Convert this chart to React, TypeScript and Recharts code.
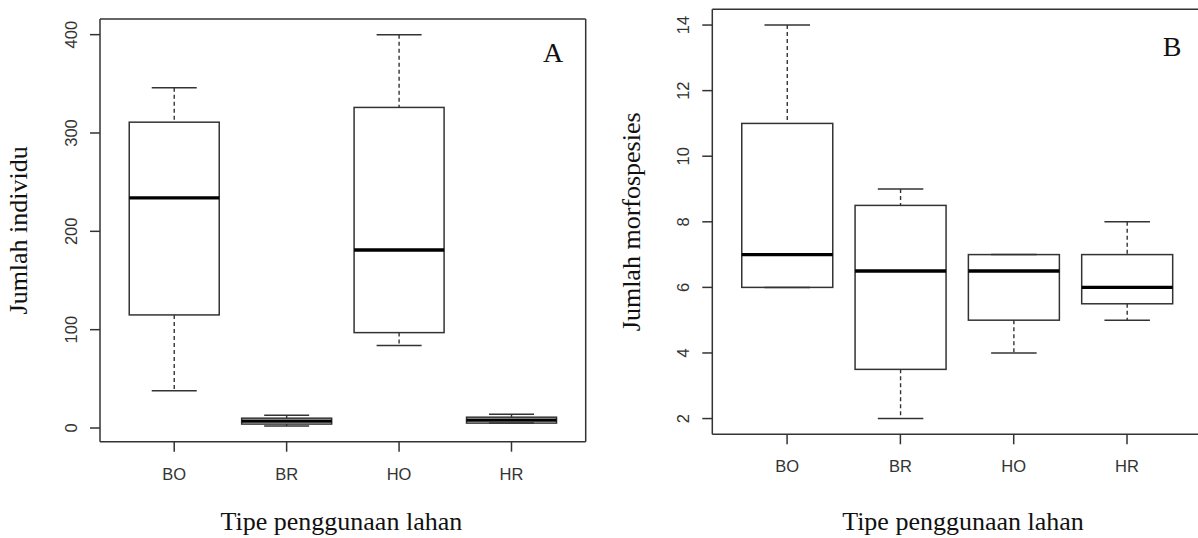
import { ComposedChart, Bar, XAxis, YAxis, Label } from "recharts";

const categories = ["BO", "BR", "HO", "HR"];

// Panel A: Jumlah individu
const indMin = [38, 2, 84, 5];
const indQ1 = [115, 4, 97, 5];
const indMedian = [234, 7, 181, 8];
const indQ3 = [311, 10, 326, 11];
const indMax = [346, 13, 400, 14];
const indTicks = [0, 100, 200, 300, 400];

// Panel B: Jumlah morfospesies
const morMin = [6, 2, 4, 5];
const morQ1 = [6, 3.5, 5, 5.5];
const morMedian = [7, 6.5, 6.5, 6];
const morQ3 = [11, 8.5, 7, 7];
const morMax = [14, 9, 7, 8];
const morTicks = [2, 4, 6, 8, 10, 12, 14];

const LINE = "#333";
const TEXT = "#333";
const SANS = '"Liberation Sans", Arial, sans-serif';
const SERIF = '"Liberation Serif", "Times New Roman", serif';

function rows(mn: number[], q1: number[], med: number[], q3: number[], mx: number[]) {
  return categories.map((name, i) => ({
    name,
    range: [mn[i], mx[i]],
    min: mn[i],
    q1: q1[i],
    median: med[i],
    q3: q3[i],
    max: mx[i],
  }));
}

// R's default 4% axis extension
function rDomain(mn: number[], mx: number[]): [number, number] {
  const lo = Math.min(...mn);
  const hi = Math.max(...mx);
  const d = (hi - lo) * 0.04;
  return [lo - d, hi + d];
}

function BoxShape(props: any) {
  const { x, y, width, height, payload } = props;
  const top = Math.min(y, y + height);
  const bottom = Math.max(y, y + height);
  const k = (bottom - top) / (payload.max - payload.min);
  const py = (v: number) => top + (payload.max - v) * k;
  const cx = x + width / 2;
  const cap = width / 4;
  return (
    <g>
      <line x1={cx} x2={cx} y1={py(payload.max)} y2={py(payload.q3)} stroke={LINE} strokeWidth={1.4} strokeDasharray="4 3" />
      <line x1={cx} x2={cx} y1={py(payload.q1)} y2={py(payload.min)} stroke={LINE} strokeWidth={1.4} strokeDasharray="4 3" />
      <line x1={cx - cap} x2={cx + cap} y1={py(payload.max)} y2={py(payload.max)} stroke={LINE} strokeWidth={1.5} />
      <line x1={cx - cap} x2={cx + cap} y1={py(payload.min)} y2={py(payload.min)} stroke={LINE} strokeWidth={1.5} />
      <rect x={x} y={py(payload.q3)} width={width} height={py(payload.q1) - py(payload.q3)} fill="none" stroke={LINE} strokeWidth={1.5} />
      <line x1={x} x2={x + width} y1={py(payload.median)} y2={py(payload.median)} stroke="#000" strokeWidth={3.4} />
    </g>
  );
}

type PanelProps = {
  left: number;
  width: number;
  plotLeft: number;
  plotTop: number;
  plotRight: number;
  plotBottom: number;
  data: any[];
  domain: [number, number];
  ticks: number[];
  yLabel: string;
  letter: string;
  letterX: number;
  letterY: number;
  titleX: number;
};

function Panel(p: PanelProps) {
  const plotW = p.plotRight - p.plotLeft;
  const pad = (plotW * 0.16) / 4.32;
  const yTick = (t: any) => {
    const cx = p.plotLeft - 29;
    return (
      <text x={cx} y={t.y} transform={`rotate(-90 ${cx} ${t.y})`} textAnchor="middle" dominantBaseline="central" fill={TEXT} fontFamily={SANS} fontSize={16.5}>
        {t.payload.value}
      </text>
    );
  };
  const xTick = (t: any) => (
    <text x={t.x} y={p.plotBottom + 32} textAnchor="middle" dominantBaseline="central" fill={TEXT} fontFamily={SANS} fontSize={16.5}>
      {t.payload.value}
    </text>
  );
  return (
    <div style={{ position: "absolute", left: p.left, top: 0 }}>
      <ComposedChart
        width={p.width}
        height={538}
        data={p.data}
        barCategoryGap="10%"
        margin={{ top: p.plotTop - 1, right: p.width - p.plotRight - 1, bottom: 0, left: 0 }}
      >
        <XAxis
          dataKey="name"
          height={538 - p.plotBottom}
          padding={{ left: pad, right: pad }}
          axisLine={{ stroke: LINE, strokeWidth: 1.5 }}
          tickLine={{ stroke: LINE, strokeWidth: 1.5 }}
          tickSize={10}
          tickMargin={0}
          tick={xTick}
          interval={0}
        >
          <Label
            content={() => (
              <text x={p.titleX} y={530} textAnchor="middle" fill="#111" fontFamily={SERIF} fontSize={26}>
                Tipe penggunaan lahan
              </text>
            )}
          />
        </XAxis>
        <XAxis
          xAxisId="top"
          orientation="top"
          dataKey="name"
          height={1}
          tick={false}
          tickLine={false}
          axisLine={{ stroke: LINE, strokeWidth: 1.5 }}
        />
        <YAxis
          type="number"
          width={p.plotLeft}
          domain={p.domain}
          ticks={p.ticks}
          allowDataOverflow
          axisLine={{ stroke: LINE, strokeWidth: 1.5 }}
          tickLine={{ stroke: LINE, strokeWidth: 1.5 }}
          tickSize={10}
          tickMargin={0}
          tick={yTick}
          interval={0}
        >
          <Label
            content={() => {
              const cx = p.plotLeft - 81;
              const cy = (p.plotTop + p.plotBottom) / 2;
              return (
                <g>
                  <text x={cx} y={cy} transform={`rotate(-90 ${cx} ${cy})`} textAnchor="middle" dominantBaseline="central" fill="#111" fontFamily={SERIF} fontSize={26}>
                    {p.yLabel}
                  </text>
                  <text x={p.letterX} y={p.letterY} textAnchor="middle" fill="#111" fontFamily={SERIF} fontSize={28}>
                    {p.letter}
                  </text>
                </g>
              );
            }}
          />
        </YAxis>
        <YAxis
          yAxisId="right"
          orientation="right"
          width={1}
          domain={[0, 1]}
          tick={false}
          tickLine={false}
          axisLine={{ stroke: LINE, strokeWidth: 1.5 }}
        />
        <Bar dataKey="range" shape={BoxShape} isAnimationActive={false} />
      </ComposedChart>
    </div>
  );
}

export default function App() {
  const dataA = rows(indMin, indQ1, indMedian, indQ3, indMax);
  const dataB = rows(morMin, morQ1, morMedian, morQ3, morMax);
  return (
    <div style={{ position: "absolute", left: 0, top: 0, width: 1198, height: 538, overflow: "hidden", background: "#fff" }}>
      <Panel
        left={0}
        width={600}
        plotLeft={100}
        plotTop={19}
        plotRight={585.7}
        plotBottom={441.7}
        data={dataA}
        domain={rDomain(indMin, indMax)}
        ticks={indTicks}
        yLabel="Jumlah individu"
        letter="A"
        letterX={553}
        letterY={61.5}
        titleX={341.4}
      />
      <Panel
        left={600}
        width={606}
        plotLeft={112.3}
        plotTop={9.3}
        plotRight={601.8}
        plotBottom={434.3}
        data={dataB}
        domain={rDomain(morMin, morMax)}
        ticks={morTicks}
        yLabel="Jumlah morfospesies"
        letter="B"
        letterX={572}
        letterY={56}
        titleX={363}
      />
    </div>
  );
}
